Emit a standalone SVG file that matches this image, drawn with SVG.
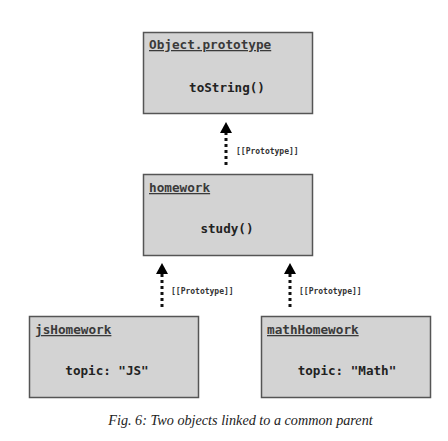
<svg xmlns="http://www.w3.org/2000/svg" width="448" height="441" viewBox="0 0 448 441">
<style>
.box{fill:#d3d3d3;stroke:#555;stroke-width:1.5}
.title{font-family:"DejaVu Sans Mono","Liberation Mono",monospace;font-weight:bold;font-size:12.7px;fill:#3a3a3a;text-decoration:underline}
.body{font-family:"DejaVu Sans Mono","Liberation Mono",monospace;font-weight:bold;font-size:12.6px;fill:#222;text-anchor:middle}
.lbl{font-family:"DejaVu Sans Mono","Liberation Mono",monospace;font-weight:bold;font-size:8px;fill:#333}
.link{stroke:#111;stroke-width:3;stroke-dasharray:3 3;fill:none}
.cap{font-family:"Liberation Serif",serif;font-style:italic;font-size:14.2px;fill:#222;text-anchor:middle}
</style>
<g id="objectPrototype">
<rect class="box" x="143.5" y="32.5" width="169" height="81"/>
<text class="title" x="149" y="49">Object.prototype</text>
<text class="body" x="227" y="92">toString()</text>
</g>
<g id="homework">
<rect class="box" x="143.5" y="174.5" width="169" height="81"/>
<text class="title" x="149" y="192">homework</text>
<text class="body" x="227" y="233">study()</text>
</g>
<g id="jsHomework">
<rect class="box" x="29.5" y="316.5" width="169" height="81"/>
<text class="title" x="35" y="334">jsHomework</text>
<text class="body" x="107" y="375">topic: "JS"</text>
</g>
<g id="mathHomework">
<rect class="box" x="261.5" y="316.5" width="169" height="81"/>
<text class="title" x="267" y="334">mathHomework</text>
<text class="body" x="347" y="375">topic: "Math"</text>
</g>
<g id="connectors">
<line x1="226" y1="165" x2="226" y2="133" class="link"/>
<path d="M220,133 L226,122 L232,133 Z" fill="#000"/>
<text class="lbl" x="236" y="154">[[Prototype]]</text>
<line x1="162" y1="307" x2="162" y2="274" class="link"/>
<path d="M156,274 L162,263 L168,274 Z" fill="#000"/>
<text class="lbl" x="171" y="294">[[Prototype]]</text>
<line x1="290" y1="307" x2="290" y2="274" class="link"/>
<path d="M284,274 L290,263 L296,274 Z" fill="#000"/>
<text class="lbl" x="299" y="294">[[Prototype]]</text>
</g>
<text class="cap" x="240.5" y="425">Fig. 6: Two objects linked to a common parent</text>
</svg>
